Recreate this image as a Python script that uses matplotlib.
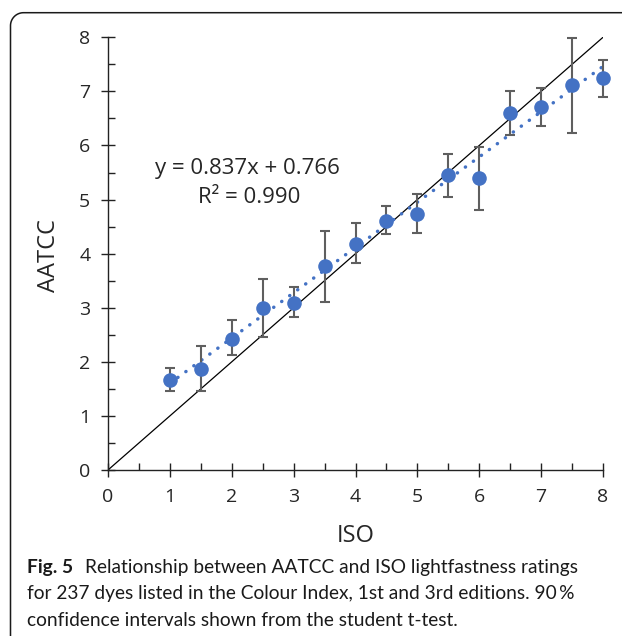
import numpy as np
import matplotlib.pyplot as plt
from matplotlib.lines import Line2D
from matplotlib.ticker import MultipleLocator

# ISO 评级 与 AATCC 平均值 及 90% 置信区间
iso = [1, 1.5, 2, 2.5, 3, 3.5, 4, 4.5, 5, 5.5, 6, 6.5, 7, 7.5, 8]
aatcc = [1.66, 1.87, 2.43, 2.99, 3.08, 3.77, 4.18, 4.61, 4.74, 5.45, 5.39, 6.60, 6.72, 7.12, 7.24]
ci_low = [1.46, 1.46, 2.13, 2.46, 2.82, 3.11, 3.82, 4.36, 4.39, 5.05, 4.81, 6.20, 6.36, 6.23, 6.90]
ci_high = [1.88, 2.29, 2.77, 3.54, 3.38, 4.42, 4.56, 4.88, 5.10, 5.84, 5.98, 7.01, 7.07, 7.99, 7.58]

# 线性拟合系数
slope = 0.837
intercept = 0.766
r2 = 0.990

W, H = 622, 636
fig = plt.figure(figsize=(W / 100, H / 100), dpi=100)

chart_font = ['Open Sans', 'DejaVu Sans']
text_col = '#262626'

ax = fig.add_axes([108 / W, 1 - 470 / H, 495 / W, 432.7 / H])

# y = x 参考线
ax.plot([0, 8], [0, 8], color='black', lw=0.9, zorder=2)

# 趋势线（点线）
xt = np.array([iso[0], iso[-1]])
ax.plot(xt, slope * xt + intercept, color='#4472C4', lw=2.5,
        dashes=(0.05, 2.8), dash_capstyle='round', zorder=3)

# 误差棒 + 数据点
y = np.array(aatcc)
yerr = [y - np.array(ci_low), np.array(ci_high) - y]
ax.errorbar(iso, y, yerr=yerr, fmt='none', ecolor='#5f5f5f', elinewidth=1.5,
            capsize=3.8, capthick=1.5, zorder=4, clip_on=False)
ax.plot(iso, y, 'o', color='#4472C4', ms=10.5, mec='none', zorder=5, clip_on=False)

ax.set_xlim(0, 8)
ax.set_ylim(0, 8)
ax.xaxis.set_major_locator(MultipleLocator(1))
ax.yaxis.set_major_locator(MultipleLocator(1))
ax.xaxis.set_minor_locator(MultipleLocator(0.5))
ax.yaxis.set_minor_locator(MultipleLocator(0.5))

for s in ['top', 'right']:
    ax.spines[s].set_visible(False)
for s in ['left', 'bottom']:
    ax.spines[s].set_linewidth(1.0)
    ax.spines[s].set_color('#222222')

ax.tick_params(which='major', direction='inout', length=9.5, width=1.0,
               color='#222222', labelsize=14, labelcolor=text_col, pad=8)
ax.tick_params(which='minor', direction='in', length=4.8, width=1.0, color='#222222')
for lab in ax.get_xticklabels() + ax.get_yticklabels():
    lab.set_family(chart_font)
ax.patch.set_alpha(0)

# 拟合方程
ax.text(2.26, (470 - 168) / 54.1, f'y = {slope}x + {intercept}', ha='center', va='center',
        fontsize=16, color=text_col, family=chart_font)
ax.text(2.28, (470 - 197) / 54.1, f'R² = {r2:.3f}', ha='center', va='center',
        fontsize=16, color=text_col, family=chart_font)

# 轴标题
fig.text(356 / W, 1 - 536 / H, 'ISO', ha='center', va='center',
         fontsize=17, color=text_col, family=chart_font)
fig.text(49 / W, 1 - 256 / H, 'AATCC', ha='center', va='center', rotation=90,
         fontsize=17, color=text_col, family=chart_font)

# 图注
cap_font = ['Lato', 'DejaVu Sans']
cap_size = 13.8
fig.text(27 / W, 1 - 568 / H, 'Fig. 5', ha='left', va='center', fontsize=cap_size,
         fontweight='bold', color='#1a1a1a', family=cap_font)
fig.text(85 / W, 1 - 568 / H, 'Relationship between AATCC and ISO lightfastness ratings',
         ha='left', va='center', fontsize=cap_size, color='#1a1a1a', family=cap_font)
fig.text(27 / W, 1 - 594 / H, 'for 237 dyes listed in the Colour Index, 1st and 3rd editions. 90\u2009%',
         ha='left', va='center', fontsize=cap_size, color='#1a1a1a', family=cap_font)
fig.text(27 / W, 1 - 620 / H, 'confidence intervals shown from the student t-test.',
         ha='left', va='center', fontsize=cap_size, color='#1a1a1a', family=cap_font)

# 外框（左上圆角）
r = 13
x0, y0 = 10.5, 12.7
th = np.linspace(np.pi, np.pi / 2, 20)
fx = np.concatenate([[x0], x0 + r + r * np.cos(th), [W]])
fy = np.concatenate([[H], y0 + r - r * np.sin(th), [y0]])
fig.add_artist(Line2D(fx / W, 1 - fy / H, color='#1a1a1a', lw=1.1,
                      transform=fig.transFigure))

fig.savefig('out.png', dpi=100)
